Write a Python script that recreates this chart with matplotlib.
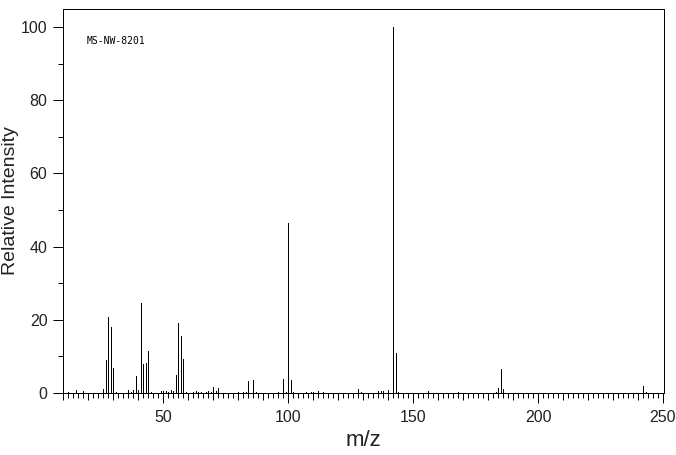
import matplotlib
matplotlib.use("Agg")
import matplotlib.pyplot as plt

mz = [12, 15, 18, 26, 27, 28, 29, 30, 31, 36, 37, 38, 39, 40, 41, 42, 43, 44, 45,
      49, 50, 51, 52, 53, 54, 55, 56, 57, 58, 59, 62, 63, 64, 65, 67, 68, 69, 70, 71, 72,
      80, 82, 83, 84, 86, 87, 96, 98, 99, 100, 101, 102, 107, 109, 110, 112, 114,
      128, 129, 136, 137, 138, 140, 142, 143, 144, 156, 168, 183, 184, 185, 186, 242, 243]
intensity = [0.4, 0.8, 0.5, 1.0, 9.0, 20.8, 17.9, 6.9, 0.3, 0.8, 0.4, 0.7, 4.7, 0.9, 24.7, 8.0, 8.2, 11.5, 0.3,
             0.6, 0.6, 0.6, 0.4, 0.8, 0.6, 5.0, 19.2, 15.7, 9.2, 0.3, 0.3, 0.6, 0.4, 0.4, 0.3, 0.5, 0.4, 1.7, 0.5, 1.4,
             0.3, 0.3, 0.4, 3.4, 3.5, 0.3, 0.3, 3.9, 0.4, 46.5, 3.5, 0.3, 0.3, 0.3, 0.3, 0.5, 0.3,
             1.0, 0.3, 0.5, 0.5, 0.5, 0.9, 100.0, 10.8, 0.4, 0.5, 0.4, 0.4, 1.3, 6.5, 1.1, 1.9, 0.3]
x_major = [50, 100, 150, 200, 250]
y_major = [0, 20, 40, 60, 80, 100]
title = "MS-NW-8201"

W, H = 676, 455
plt.rcParams["font.family"] = ["Liberation Sans", "DejaVu Sans"]
fig = plt.figure(figsize=(W / 100, H / 100), dpi=100)
L, R, T, B = 63.0, 664.0, 9.0, 393.0
ax = fig.add_axes([L / W, 1 - B / H, (R - L) / W, (B - T) / H])
ax.set_xlim(10, 10 + (R - L) / 2.5)
ax.set_ylim(0, (B - T) / 3.66)

lw = 0.72
ax.vlines(mz, 0, intensity, colors="black", linewidth=lw, antialiased=False)
for s in ax.spines.values():
    s.set_linewidth(lw)
    s.set_antialiased(False)

px = 0.72
x_minor = [v for v in range(10, 251, 2) if v % 50 != 0]
ax.set_xticks(x_major)
ax.set_xticks(x_minor, minor=True)
ax.set_yticks(y_major)
ax.set_yticks([10, 30, 50, 70, 90], minor=True)
ax.tick_params(axis="both", which="major", length=10 * px, width=lw, labelsize=11.5, pad=4, labelcolor="#222222")
ax.tick_params(axis="both", which="minor", length=5 * px, width=lw)
ax.tick_params(axis="x", which="major", pad=5)
for v, t in zip(x_minor, ax.xaxis.get_minor_ticks()):
    t.tick1line.set_markersize((7 if v % 10 == 0 else 5) * px)

fig.text(11 / W, 1 - 201 / H, "Relative Intensity", rotation=90, ha="center", va="center", fontsize=14, color="#222222")
fig.text(363 / W, 1 - 441 / H, "m/z", ha="center", va="center", fontsize=16, color="#222222")
fig.text(87 / W, 1 - 40.5 / H, title, ha="left", va="center", fontsize=7, family=["DejaVu Sans Mono"])

fig.savefig("out.png", dpi=100)
